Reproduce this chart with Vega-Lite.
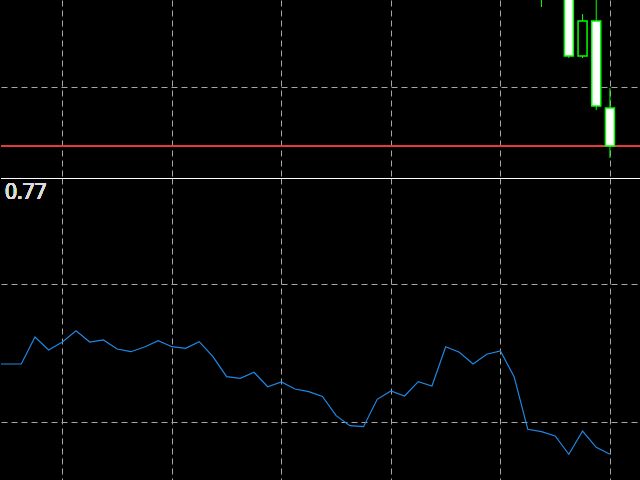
{
  "$schema": "https://vega.github.io/schema/vega-lite/v6.json",
  "background": "#000000",
  "padding": 0,
  "spacing": 0,
  "config": {
    "view": {"stroke": null},
    "axis": {
      "domain": false,
      "labels": false,
      "ticks": false,
      "title": null,
      "grid": true,
      "gridColor": "#a6a6a6",
      "gridDash": [6, 4],
      "gridOpacity": 1,
      "gridWidth": 1
    }
  },
  "datasets": {
    "candles": [
      {"bar": 39, "open": 1.1003, "high": 1.1018, "low": 1.0971, "close": 1.0983},
      {"bar": 40, "open": 1.0984, "high": 1.1012, "low": 1.0980, "close": 1.1005},
      {"bar": 41, "open": 1.1008, "high": 1.1023, "low": 1.0920, "close": 1.0922},
      {"bar": 42, "open": 1.0922, "high": 1.0964, "low": 1.0920, "close": 1.0957},
      {"bar": 43, "open": 1.0957, "high": 1.0988, "low": 1.0868, "close": 1.0872},
      {"bar": 44, "open": 1.0870, "high": 1.0890, "low": 1.0820, "close": 1.0832}
    ],
    "indicator": [
      {"bar": -1, "value": 0.3261},
      {"bar": 0, "value": 0.3261},
      {"bar": 1, "value": 0.3261},
      {"bar": 2, "value": 0.3848},
      {"bar": 3, "value": 0.3565},
      {"bar": 4, "value": 0.3739},
      {"bar": 5, "value": 0.3985},
      {"bar": 6, "value": 0.3739},
      {"bar": 7, "value": 0.3783},
      {"bar": 8, "value": 0.3587},
      {"bar": 9, "value": 0.3528},
      {"bar": 10, "value": 0.3630},
      {"bar": 11, "value": 0.3767},
      {"bar": 12, "value": 0.3637},
      {"bar": 13, "value": 0.3602},
      {"bar": 14, "value": 0.3746},
      {"bar": 15, "value": 0.3420},
      {"bar": 16, "value": 0.2985},
      {"bar": 17, "value": 0.2950},
      {"bar": 18, "value": 0.3080},
      {"bar": 19, "value": 0.2767},
      {"bar": 20, "value": 0.2870},
      {"bar": 21, "value": 0.2717},
      {"bar": 22, "value": 0.2659},
      {"bar": 23, "value": 0.2554},
      {"bar": 24, "value": 0.2137},
      {"bar": 25, "value": 0.1920},
      {"bar": 26, "value": 0.1898},
      {"bar": 27, "value": 0.2493},
      {"bar": 28, "value": 0.2674},
      {"bar": 29, "value": 0.2565},
      {"bar": 30, "value": 0.2876},
      {"bar": 31, "value": 0.2783},
      {"bar": 32, "value": 0.3637},
      {"bar": 33, "value": 0.3515},
      {"bar": 34, "value": 0.3261},
      {"bar": 35, "value": 0.3472},
      {"bar": 36, "value": 0.3543},
      {"bar": 37, "value": 0.2985},
      {"bar": 38, "value": 0.1841},
      {"bar": 39, "value": 0.1789},
      {"bar": 40, "value": 0.1696},
      {"bar": 41, "value": 0.1298},
      {"bar": 42, "value": 0.1804},
      {"bar": 43, "value": 0.1450},
      {"bar": 44, "value": 0.1298}
    ]
  },
  "vconcat": [
    {
      "width": 640,
      "height": 178,
      "data": {"name": "candles"},
      "encoding": {
        "x": {
          "field": "bar",
          "type": "quantitative",
          "scale": {"domain": [-0.482, 46.27], "nice": false, "zero": false, "padding": 0},
          "axis": {"values": [4, 12, 20, 28, 36, 44]}
        }
      },
      "layer": [
        {
          "mark": {"type": "rule", "color": "#e23c3c", "strokeWidth": 1.5},
          "encoding": {
            "x": null,
            "y": {
              "datum": 1.0832,
              "type": "quantitative",
              "scale": {"domain": [1.08, 1.0978], "nice": false, "zero": false, "padding": 0},
              "axis": {"values": [1.0891]}
            }
          }
        },
        {
          "mark": {"type": "rule", "color": "#00ff00", "strokeWidth": 1, "clip": true},
          "encoding": {
            "y": {"field": "low", "type": "quantitative"},
            "y2": {"field": "high"}
          }
        },
        {
          "mark": {"type": "bar", "size": 9, "stroke": "#00ff00", "strokeWidth": 1.5, "clip": true},
          "encoding": {
            "y": {"field": "open", "type": "quantitative"},
            "y2": {"field": "close"},
            "fill": {
              "condition": {"test": "datum.open > datum.close", "value": "#ffffff"},
              "value": "#000000"
            }
          }
        }
      ]
    },
    {
      "width": 640,
      "height": 302,
      "data": {"name": "indicator"},
      "encoding": {
        "x": {
          "field": "bar",
          "type": "quantitative",
          "scale": {"domain": [-0.482, 46.27], "nice": false, "zero": false},
          "axis": {"values": [4, 12, 20, 28, 36, 44]}
        }
      },
      "layer": [
        {
          "mark": {"type": "line", "color": "#1e88e5", "strokeWidth": 1.2, "clip": true},
          "encoding": {
            "y": {
              "field": "value",
              "type": "quantitative",
              "scale": {"domain": [0.0739, 0.7304], "nice": false, "zero": false},
              "axis": {"values": [0.2, 0.5]}
            }
          }
        },
        {
          "mark": {"type": "rule", "color": "#ffffff", "strokeWidth": 1},
          "encoding": {
            "x": null,
            "y": {"datum": 0.7293, "type": "quantitative"}
          }
        },
        {
          "mark": {
            "type": "text",
            "text": "0.77",
            "align": "left",
            "baseline": "alphabetic",
            "font": "Open Sans",
            "fontSize": 21,
            "color": "#dcdcdc"
          },
          "encoding": {
            "x": {"datum": -0.19, "type": "quantitative"},
            "y": {"datum": 0.6847, "type": "quantitative"}
          }
        }
      ]
    }
  ]
}
